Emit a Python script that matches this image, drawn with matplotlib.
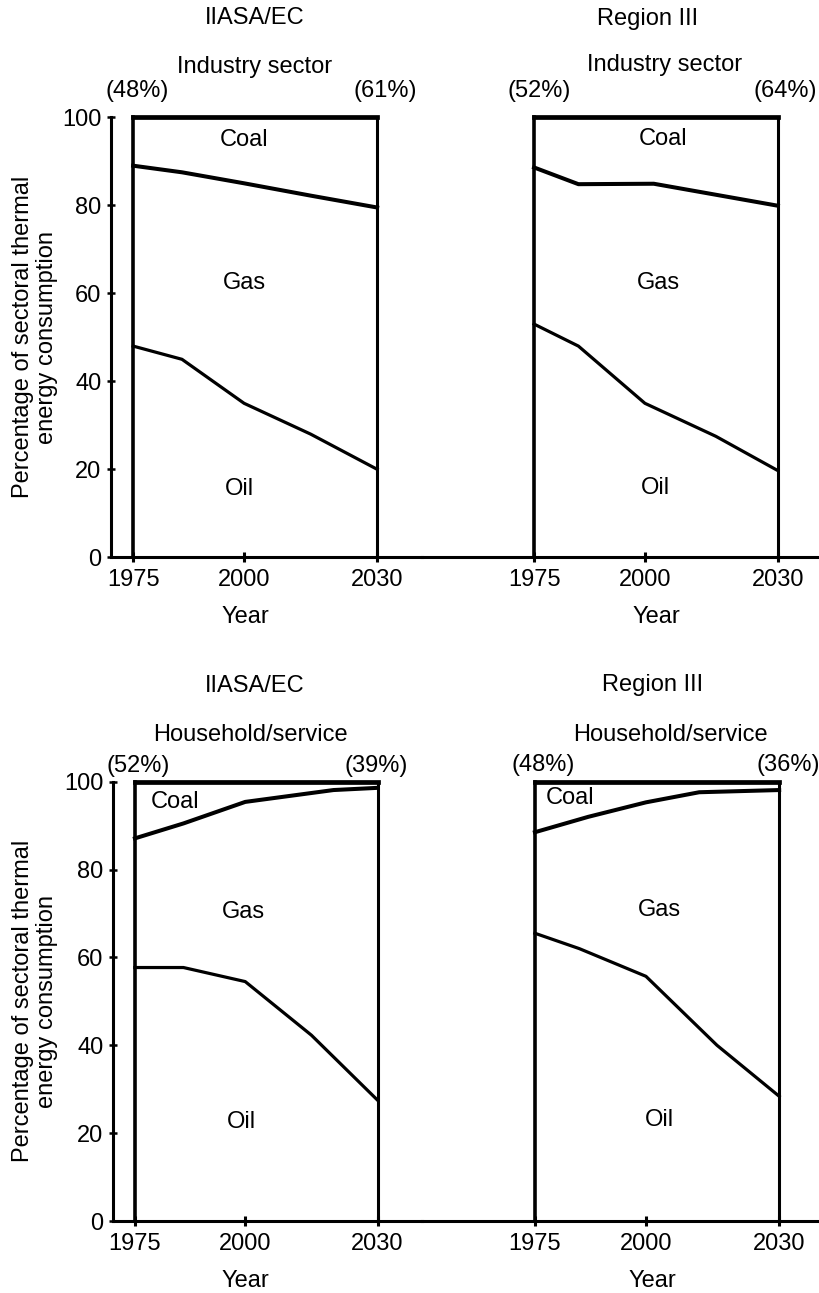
import matplotlib
matplotlib.use("Agg")
import matplotlib.pyplot as plt

plt.rcParams['font.family'] = ['Liberation Sans', 'DejaVu Sans']

# region headings / sector headings / share of total in 1975 and 2030
regions = ['IIASA/EC', 'Region III', 'IIASA/EC', 'Region III']
sectors = ['Industry sector', 'Industry sector', 'Household/service', 'Household/service']
share_1975 = ['(48%)', '(52%)', '(52%)', '(48%)']
share_2030 = ['(61%)', '(64%)', '(39%)', '(36%)']

# upper edge of the oil band (% of sectoral thermal energy)
oil_years = [[1975, 1986, 2000, 2015, 2030],
             [1975, 1985, 2000, 2016, 2030],
             [1975, 1986, 2000, 2015, 2030],
             [1975, 1985, 2000, 2016, 2030]]
oil_top = [[48, 45, 35, 28, 20],
           [53, 48, 35, 27.5, 19.7],
           [57.7, 57.7, 54.5, 42.3, 27.5],
           [65.5, 62, 55.7, 40, 28.4]]

# upper edge of the gas band (oil + gas)
gas_years = [[1975, 1986, 2000, 2015, 2030],
             [1975, 1985, 2002, 2030],
             [1975, 1986, 2000, 2020, 2030],
             [1975, 1987, 2000, 2012, 2030]]
gas_top = [[89, 87.5, 85, 82.2, 79.5],
           [88.6, 84.8, 84.9, 79.9],
           [87.1, 90.5, 95.4, 98.1, 98.6],
           [88.5, 92, 95.3, 97.6, 98.1]]

# label positions (year, value) for Coal / Gas / Oil
coal_lab = [(2000, 94.8), (2004, 95.1), (1984, 95.4), (1983, 96.2)]
gas_lab = [(2000, 62.3), (2003, 62.3), (1999.6, 70.3), (2003, 70.8)]
oil_lab = [(1999, 15.5), (2002.3, 15.7), (1999.2, 22.6), (2003, 22.9)]

W, H = 820, 1293
fig = plt.figure(figsize=(W / 100, H / 100), dpi=100)

# axes boxes in pixels: x0, x1, y at 100, y at 0, xlim
boxes = [(111, 421.5, 117.3, 557.3, (1970, 2040)),
         (421.5, 820, 117.3, 557.3, (1949.6, 2039.5)),
         (113.3, 421.7, 781.7, 1221, (1970.1, 2040)),
         (421.7, 820, 781.7, 1221, (1949.5, 2039.2))]

# heading positions in pixels
region_xy = [(255, 18), (648, 19), (255, 686), (653, 685)]
sector_xy = [(255, 67), (665, 65), (250, 735), (670, 735)]
s75_xy = [(137, 91), (539, 91), (138, 766), (543, 765)]
s30_xy = [(385, 91), (785, 91), (376, 766), (788, 765)]
year_x = [245, 656, 245, 652]

fs = 17

def ftxt(xy, s):
    fig.text(xy[0] / W, 1 - xy[1] / H, s, ha='center', va='center', fontsize=fs)

for i in range(4):
    x0, x1, yt, yb, xl = boxes[i]
    ax = fig.add_axes([x0 / W, 1 - yb / H, (x1 - x0) / W, (yb - yt) / H])
    ax.set_xlim(xl)
    ax.set_ylim(0, 100)

    # frame of the stacked share chart
    ax.plot([1975, 2030], [100, 100], color='black', lw=3.4, clip_on=False, solid_capstyle='projecting')
    ax.plot([1975, 1975], [0, 100], color='black', lw=2.6, clip_on=False)
    ax.plot([2030, 2030], [0, 100], color='black', lw=2.2, clip_on=False)

    ax.plot(gas_years[i], gas_top[i], color='black', lw=2.9, clip_on=False)
    ax.plot(oil_years[i], oil_top[i], color='black', lw=2.3, clip_on=False)

    ax.text(*coal_lab[i], 'Coal', ha='center', va='center', fontsize=fs)
    ax.text(*gas_lab[i], 'Gas', ha='center', va='center', fontsize=fs)
    ax.text(*oil_lab[i], 'Oil', ha='center', va='center', fontsize=fs)

    for sp in ['top', 'right']:
        ax.spines[sp].set_visible(False)
    ax.spines['bottom'].set_linewidth(2.2)
    ax.set_xticks([1975, 2000, 2030])
    ax.tick_params(axis='x', direction='inout', length=7, width=2.2, labelsize=fs, pad=5)
    ax.set_xlabel('Year', fontsize=fs, labelpad=11)
    ax.xaxis.label.set_x((year_x[i] - x0) / (x1 - x0))

    if i % 2 == 0:
        ax.spines['left'].set_linewidth(2.2)
        ax.set_yticks([0, 20, 40, 60, 80, 100])
        ax.tick_params(axis='y', direction='inout', length=6, width=1.8, labelsize=fs, pad=4)
        ax.set_ylabel('Percentage of sectoral thermal\nenergy consumption', fontsize=fs,
                      linespacing=1.1)
        ax.yaxis.set_label_coords((58 - x0) / (x1 - x0), 0.5)
    else:
        ax.spines['left'].set_visible(False)
        ax.set_yticks([])

    ax.patch.set_alpha(0)

    ftxt(region_xy[i], regions[i])
    ftxt(sector_xy[i], sectors[i])
    ftxt(s75_xy[i], share_1975[i])
    ftxt(s30_xy[i], share_2030[i])

fig.savefig('out.png', dpi=100)
